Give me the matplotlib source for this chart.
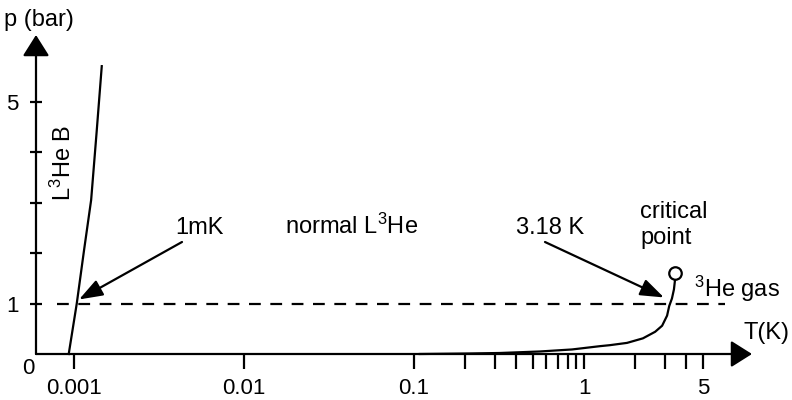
import matplotlib
matplotlib.use("Agg")
import matplotlib.pyplot as plt
from matplotlib.patches import ArrowStyle

plt.rcParams['font.family'] = ['Liberation Sans', 'DejaVu Sans']
plt.rcParams['mathtext.fontset'] = 'custom'
plt.rcParams['mathtext.rm'] = 'Liberation Sans'
plt.rcParams['mathtext.it'] = 'Liberation Sans'

# ---- data ----
melt_T = [0.000930, 0.001037, 0.001145, 0.00126, 0.001356, 0.001455]
melt_p = [0.0, 1.0, 2.06, 3.05, 4.38, 5.70]

vap_T = [0.108, 0.21, 0.32, 0.55, 0.85, 1.24, 1.42, 1.79, 2.22, 2.62, 2.88, 3.08, 3.17, 3.29, 3.38, 3.43]
vap_p = [0.0, 0.01, 0.02, 0.05, 0.09, 0.155, 0.175, 0.22, 0.31, 0.44, 0.56, 0.76, 0.95, 1.1, 1.28, 1.47]

crit_T = [3.43]
crit_p = [1.60]

line_p = 1.0
line_T = [0.000794, 6.75]

x_major = [0.001, 0.01, 0.1, 1, 5]
x_major_labels = ['0.001', '0.01', '0.1', '1', '5']
x_minor = [0.2, 0.3, 0.4, 0.5, 0.6, 0.7, 0.8, 0.9, 2, 3, 4]
y_ticks = [1, 2, 3, 4, 5]
y_labels = ['1', '', '', '', '5']

arrow_1mK_tip = (0.00107, 1.08)
arrow_318_tip = (2.95, 1.12)

W, H = 792, 400
fig = plt.figure(figsize=(W / 100, H / 100), dpi=100)
ax = fig.add_axes([36 / W, 1 - 354 / H, (752 - 36) / W, (354 - 35) / H])
ax.set_xscale('log')
ax.set_xlim(0.000597, 9.73)
ax.set_ylim(0, 6.317)
for s in ax.spines.values():
    s.set_visible(False)
ax.patch.set_visible(False)

FS = 17
TFS = 16
lw = 1.6

# axes with arrow heads
axstyle = ArrowStyle('-|>', head_length=0.65, head_width=0.41)
ax.annotate('', xy=(1, 0), xytext=(0, 0), xycoords='axes fraction',
            arrowprops=dict(arrowstyle=axstyle, mutation_scale=20, lw=lw, color='black',
                            shrinkA=0, shrinkB=0), annotation_clip=False)
ax.annotate('', xy=(0, 1), xytext=(0, 0), xycoords='axes fraction',
            arrowprops=dict(arrowstyle=axstyle, mutation_scale=20, lw=lw, color='black',
                            shrinkA=0, shrinkB=0), annotation_clip=False)

ax.set_xticks(x_major, x_major_labels)
ax.set_xticks(x_minor, minor=True)
ax.set_xticklabels([], minor=True)
ax.tick_params(axis='x', which='both', direction='out', length=11, width=lw,
               labelsize=TFS, pad=6, top=False)
ax.set_yticks(y_ticks, y_labels)
ax.tick_params(axis='y', which='both', direction='inout', length=8.6, width=lw,
               labelsize=TFS, pad=8, right=False)

# curves
ax.plot(melt_T, melt_p, color='black', lw=lw, clip_on=False)
ax.plot(vap_T, vap_p, color='black', lw=lw, clip_on=False)
ax.plot(line_T, [line_p, line_p], color='black', lw=lw, linestyle=(0, (5.3, 4.3)))
ax.plot(crit_T, crit_p, marker='o', markersize=9, markerfacecolor='white',
        markeredgecolor='black', markeredgewidth=lw, linestyle='none', clip_on=False)

# arrows
astyle = ArrowStyle('-|>', head_length=0.72, head_width=0.26)
ax.annotate('', xy=arrow_1mK_tip, xycoords='data',
            xytext=(182 / W, 1 - 242 / H), textcoords='figure fraction',
            arrowprops=dict(arrowstyle=astyle, mutation_scale=20, lw=lw, color='black',
                            shrinkA=0, shrinkB=0))
ax.annotate('', xy=arrow_318_tip, xycoords='data',
            xytext=(545 / W, 1 - 242 / H), textcoords='figure fraction',
            arrowprops=dict(arrowstyle=astyle, mutation_scale=20, lw=lw, color='black',
                            shrinkA=0, shrinkB=0))

def ftext(x, y, s, **kw):
    kw.setdefault('fontsize', FS)
    kw.setdefault('va', 'center')
    fig.text(x / W, 1 - y / H, s, **kw)

ftext(4, 20, 'p (bar)', ha='left')
ftext(743, 333, 'T(K)', ha='left')
ftext(28, 368, '0', ha='center', fontsize=TFS)
ftext(63, 163, r'L$^{3}$He B', ha='center', rotation=90)
ftext(199, 228, '1mK', ha='center')
ftext(285, 226, r'normal L$^{3}$He', ha='left')
ftext(550, 228, '3.18 K', ha='center')
ftext(640, 212, 'critical', ha='left')
ftext(640, 238, 'point', ha='left')
ftext(694, 289, r'$^{3}$He gas', ha='left')

fig.savefig('out.png', dpi=100)
